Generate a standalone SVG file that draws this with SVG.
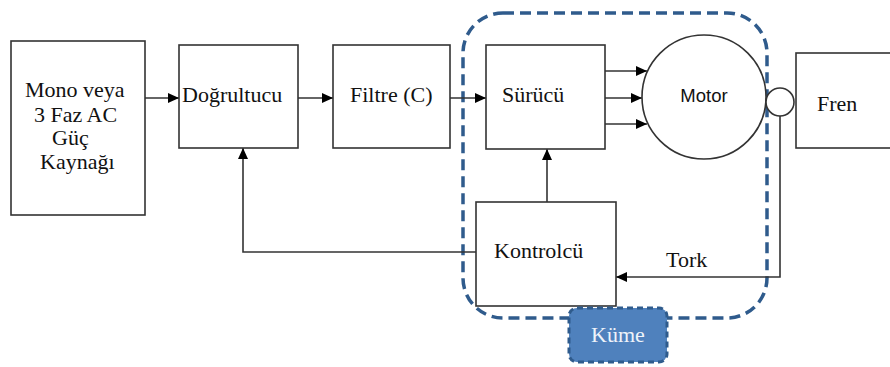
<svg xmlns="http://www.w3.org/2000/svg" width="890" height="367" viewBox="0 0 890 367">
<style>
.box{fill:#fff;stroke:#333;stroke-width:1.6}
.t{font-family:"Liberation Serif","Times New Roman",serif;font-size:22px;fill:#111}
.s{font-family:"Liberation Sans",Arial,sans-serif;font-size:18.5px;fill:#111}
.ln{fill:none;stroke:#333;stroke-width:1.6}
</style>
<defs>
<marker id="ah" markerUnits="userSpaceOnUse" markerWidth="12" markerHeight="10" refX="11" refY="5" orient="auto">
<path d="M0,0 L11,5 L0,10 Z" fill="#000"/>
</marker>
</defs>
<rect width="890" height="367" fill="#fff"/>
<g id="cluster">
<rect x="463" y="13" width="304" height="305" rx="40" fill="none" stroke="#2f5b8c" stroke-width="3.5" stroke-dasharray="11 6"/>
</g>
<g id="connectors">
<line class="ln" x1="145" y1="98" x2="179" y2="98" marker-end="url(#ah)"/>
<line class="ln" x1="298" y1="98" x2="333" y2="98" marker-end="url(#ah)"/>
<line class="ln" x1="450" y1="98" x2="486" y2="98" marker-end="url(#ah)"/>
<line class="ln" x1="605" y1="71" x2="647" y2="71" marker-end="url(#ah)"/>
<line class="ln" x1="605" y1="98" x2="642" y2="98" marker-end="url(#ah)"/>
<line class="ln" x1="605" y1="124" x2="647" y2="124" marker-end="url(#ah)"/>
<line class="ln" x1="547" y1="202" x2="547" y2="149" marker-end="url(#ah)"/>
<polyline class="ln" points="476,252 243,252 243,148" marker-end="url(#ah)"/>
<polyline class="ln" points="780,116 780,277 616,277" marker-end="url(#ah)"/>
</g>
<g id="source">
<rect class="box" x="11" y="41" width="134" height="174"/>
<text class="t" x="25" y="97">Mono veya</text>
<text class="t" x="34" y="122">3 Faz AC</text>
<text class="t" x="52" y="145">Güç</text>
<text class="t" x="40" y="169">Kaynağı</text>
</g>
<g id="rectifier">
<rect class="box" x="179" y="45" width="119" height="103"/>
<text class="t" x="182" y="102">Doğrultucu</text>
</g>
<g id="filter">
<rect class="box" x="333" y="45" width="117" height="103"/>
<text class="t" x="350" y="102">Filtre (C)</text>
</g>
<g id="driver">
<rect class="box" x="486" y="45" width="119" height="104"/>
<text class="t" x="502" y="102">Sürücü</text>
</g>
<g id="motor">
<circle cx="704" cy="97" r="62" fill="#fff" stroke="#333" stroke-width="1.6"/>
<text class="s" x="704" y="102" text-anchor="middle">Motor</text>
</g>
<g id="coupling">
<circle cx="780" cy="102" r="14" fill="#fff" stroke="#333" stroke-width="1.6"/>
</g>
<g id="brake">
<rect class="box" x="796" y="53" width="100" height="95"/>
<text class="t" x="817" y="111">Fren</text>
</g>
<g id="controller">
<rect class="box" x="476" y="202" width="140" height="104"/>
<text class="t" x="494" y="258">Kontrolcü</text>
</g>
<g id="torque-label">
<text class="t" x="666" y="267">Tork</text>
</g>
<g id="kume">
<rect x="569" y="308" width="98" height="54" rx="8" fill="#4f81bd" stroke="#2f5b8c" stroke-width="3" stroke-dasharray="6 4"/>
<text class="t" x="618" y="342" text-anchor="middle" style="fill:#eef3fa">Küme</text>
</g>
</svg>
